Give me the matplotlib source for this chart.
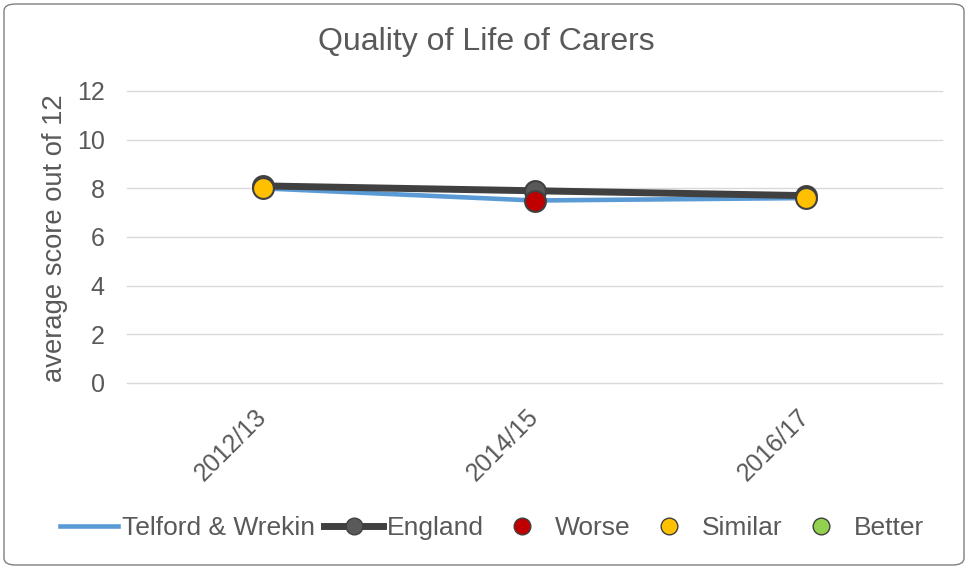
import matplotlib.pyplot as plt
from matplotlib.lines import Line2D
from matplotlib.patches import FancyBboxPatch

plt.rcParams['font.family'] = ['Liberation Sans', 'DejaVu Sans']

# Data
periods = ['2012/13', '2014/15', '2016/17']
telford = [8.0, 7.5, 7.6]
england = [8.1, 7.9, 7.7]
status = ['Similar', 'Worse', 'Similar']

status_colors = {'Worse': '#C00000', 'Similar': '#FFC000', 'Better': '#92D050'}

fig = plt.figure(figsize=(9.68, 5.69), dpi=100)
ax = fig.add_axes([127 / 968, 1 - 383 / 569, (942 - 127) / 968, (383 - 91) / 569])

# Rounded border around the chart
border = FancyBboxPatch((4 / 968, 4 / 569), 960 / 968, 561 / 569,
                        boxstyle='round,pad=0,rounding_size=0.012',
                        transform=fig.transFigure, facecolor='none',
                        edgecolor='#7F7F7F', linewidth=1.0)
fig.patches.append(border)

x = range(len(periods))
ax.plot(x, telford, color='#5B9BD5', linewidth=3.3, zorder=3)
ax.plot(x, england, color='#404040', linewidth=5, marker='o', markersize=15,
        markerfacecolor='#595959', markeredgecolor='#404040', markeredgewidth=1.5, zorder=4)
for i, s in enumerate(status):
    ax.plot(i, telford[i], marker='o', markersize=15, color=status_colors[s],
            markeredgecolor='#404040', markeredgewidth=1.5, linestyle='none', zorder=5)

ax.set_xlim(-0.5, len(periods) - 0.5)
ax.set_ylim(0, 12)
ax.set_yticks(range(0, 13, 2))
ax.set_xticks(list(x))
ax.set_xticklabels(periods, rotation=45, ha='right', va='center', rotation_mode='anchor')
ax.tick_params(axis='both', length=0, labelsize=18, colors='#595959')
ax.tick_params(axis='y', pad=16)
ax.tick_params(axis='x', pad=22)
ax.grid(axis='y', color='#D9D9D9', linewidth=1)
for gl in ax.get_ygridlines():
    gl.set_clip_on(False)
ax.set_axisbelow(True)
for sp in ax.spines.values():
    sp.set_visible(False)

fig.text(55 / 968, 1 - 238 / 569, 'average score out of 12', rotation=90,
         ha='center', va='center', fontsize=19.7, color='#595959')

fig.text(486 / 968, 1 - 42 / 569, 'Quality of Life of Carers', ha='center', va='center',
         fontsize=23, color='#595959')

handles = [
    Line2D([], [], color='#5B9BD5', linewidth=3.3),
    Line2D([], [], color='#404040', linewidth=5, marker='o', markersize=12,
           markerfacecolor='#595959', markeredgecolor='#404040'),
    Line2D([], [], linestyle='none', marker='o', markersize=12,
           color=status_colors['Worse'], markeredgecolor='#404040'),
    Line2D([], [], linestyle='none', marker='o', markersize=12,
           color=status_colors['Similar'], markeredgecolor='#404040'),
    Line2D([], [], linestyle='none', marker='o', markersize=12,
           color=status_colors['Better'], markeredgecolor='#404040'),
]
labels = ['Telford & Wrekin', 'England', 'Worse', 'Similar', 'Better']
leg = fig.legend(handles, labels, loc='center', bbox_to_anchor=(492 / 968, 1 - 528 / 569),
                 ncol=5, frameon=False, fontsize=19, handlelength=2.2,
                 handletextpad=0.15, columnspacing=0.35, borderpad=0, borderaxespad=0)
for t in leg.get_texts():
    t.set_color('#595959')

fig.savefig('out.png', dpi=100)
